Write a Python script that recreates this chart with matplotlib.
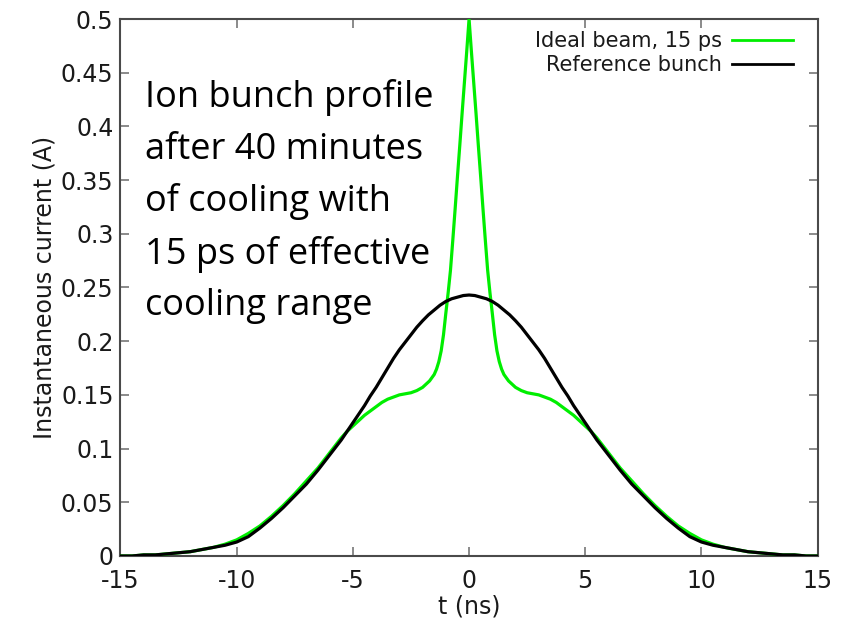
import matplotlib
matplotlib.use("Agg")
import matplotlib.pyplot as plt

# Reference bunch (black)
t_ref = [-15, -14.5, -14, -13.5, -13, -12.5, -12, -11.5, -11, -10.5, -10, -9.5, -9, -8.5, -8,
         -7.5, -7, -6.5,
         -6, -5.75, -5.5, -5.25, -5, -4.75, -4.5, -4.25, -4, -3.75, -3.5, -3.25, -3, -2.75,
         -2.5, -2.25, -2, -1.75, -1.5, -1.25, -1, -0.75, -0.5, -0.25, 0,
         0.25, 0.5, 0.75, 1, 1.25, 1.5, 1.75, 2, 2.25, 2.5, 2.75, 3, 3.25, 3.5, 3.75, 4,
         4.25, 4.5, 4.75, 5, 5.25, 5.5, 5.75, 6,
         6.5, 7, 7.5, 8, 8.5, 9, 9.5, 10, 10.5, 11, 11.5, 12, 12.5, 13, 13.5, 14, 14.5, 15]
i_ref = [0.000, 0.000, 0.001, 0.001, 0.002, 0.003, 0.004, 0.006, 0.008, 0.010, 0.013, 0.018,
         0.026, 0.035, 0.045, 0.056, 0.067, 0.080,
         0.094, 0.101, 0.108, 0.116, 0.124, 0.132, 0.140, 0.149, 0.157, 0.166, 0.175, 0.184,
         0.192, 0.199, 0.206, 0.213, 0.219, 0.2245, 0.229, 0.2335, 0.237, 0.2395, 0.241,
         0.2425, 0.243,
         0.2425, 0.241, 0.2395, 0.237, 0.2335, 0.229, 0.2245, 0.219, 0.213, 0.206, 0.199,
         0.192, 0.184, 0.175, 0.166, 0.157, 0.149, 0.140, 0.132, 0.124, 0.116, 0.108, 0.101,
         0.094,
         0.080, 0.067, 0.056, 0.045, 0.035, 0.026, 0.018, 0.013, 0.010, 0.008, 0.006, 0.004,
         0.003, 0.002, 0.001, 0.001, 0.000, 0.000]

# Ideal beam, 15 ps (green)
t_ideal = [-15, -14.5, -14, -13.5, -13, -12.5, -12, -11.5, -11, -10.5, -10, -9.5, -9, -8.5,
           -8, -7.5, -7, -6.5, -6,
           -5.75, -5.5, -5.25, -5, -4.75, -4.5, -4.25, -4, -3.75, -3.5, -3.25, -3, -2.75,
           -2.5, -2.25, -2,
           -1.9, -1.8, -1.7, -1.6, -1.5, -1.4, -1.3, -1.2, -1.1, -1.0, -0.9, -0.8, -0.7,
           -0.6, -0.5, -0.4, -0.3, -0.2, -0.1, 0,
           0.1, 0.2, 0.3, 0.4, 0.5, 0.6, 0.7, 0.8, 0.9, 1.0, 1.1, 1.2, 1.3, 1.4, 1.5, 1.6,
           1.7, 1.8, 1.9,
           2, 2.25, 2.5, 2.75, 3, 3.25, 3.5, 3.75, 4, 4.25, 4.5, 4.75, 5, 5.25, 5.5, 5.75,
           6, 6.5, 7, 7.5, 8, 8.5, 9, 9.5, 10, 10.5, 11, 11.5, 12, 12.5, 13, 13.5, 14, 14.5, 15]
i_ideal = [0.000, 0.000, 0.001, 0.001, 0.002, 0.003, 0.004, 0.006, 0.008, 0.011, 0.015,
           0.021, 0.028, 0.037, 0.047, 0.058, 0.070, 0.082, 0.096,
           0.103, 0.110, 0.116, 0.121, 0.126, 0.131, 0.135, 0.139, 0.143, 0.146, 0.148,
           0.150, 0.151, 0.152, 0.154, 0.157,
           0.159, 0.161, 0.163, 0.166, 0.169, 0.174, 0.181, 0.191, 0.206, 0.226, 0.245,
           0.266, 0.294, 0.323, 0.353, 0.382, 0.412, 0.441, 0.470, 0.500,
           0.470, 0.441, 0.412, 0.382, 0.353, 0.323, 0.294, 0.266, 0.245, 0.226, 0.206,
           0.191, 0.181, 0.174, 0.169, 0.166, 0.163, 0.161, 0.159,
           0.157, 0.154, 0.152, 0.151, 0.150, 0.148, 0.146, 0.143, 0.139, 0.135, 0.131,
           0.126, 0.121, 0.116, 0.110, 0.103,
           0.096, 0.082, 0.070, 0.058, 0.047, 0.037, 0.028, 0.021, 0.015, 0.011, 0.008,
           0.006, 0.004, 0.003, 0.002, 0.001, 0.001, 0.000, 0.000]

x_ticks = [-15, -10, -5, 0, 5, 10, 15]
y_ticks = [0, 0.05, 0.1, 0.15, 0.2, 0.25, 0.3, 0.35, 0.4, 0.45, 0.5]
y_tick_labels = ["0", "0.05", "0.1", "0.15", "0.2", "0.25", "0.3", "0.35", "0.4", "0.45", "0.5"]
note = "Ion bunch profile\nafter 40 minutes\nof cooling with\n15 ps of effective\ncooling range"

fig = plt.figure(figsize=(8.45, 6.19), dpi=100)
ax = fig.add_axes([0.1426, 0.1018, 0.825, 0.8675])

ax.plot(t_ideal, i_ideal, color="#00ee00", lw=2.3, label="Ideal beam, 15 ps", zorder=3,
        solid_joinstyle="round")
ax.plot(t_ref, i_ref, color="black", lw=2.3, label="Reference bunch", zorder=4,
        solid_joinstyle="round")

ax.set_xlim(-15, 15)
ax.set_ylim(0, 0.5)
ax.set_xticks(x_ticks)
ax.set_xticklabels([str(v) for v in x_ticks])
ax.set_yticks(y_ticks)
ax.set_yticklabels(y_tick_labels)
ax.tick_params(direction="in", top=True, right=True, length=6.5, width=1.2,
               color="#777777", labelsize=17, labelcolor="#1a1a1a")
ax.tick_params(axis="x", pad=9.5)
ax.tick_params(axis="y", pad=5)
for s in ax.spines.values():
    s.set_color("#4a4a4a")
    s.set_linewidth(1.5)

ax.set_xlabel("t (ns)", fontsize=17, color="#1a1a1a", labelpad=1)
ax.set_ylabel("Instantaneous current (A)", fontsize=17, color="#1a1a1a", labelpad=3)

leg = ax.legend(loc="upper right", bbox_to_anchor=(0.9647, 0.978), frameon=False,
                markerfirst=False, fontsize=15, handlelength=2.93, handletextpad=0.5,
                labelspacing=0.22, borderpad=0.0, borderaxespad=0.0)
for line in leg.get_lines():
    line.set_linewidth(2.0)
for txt in leg.get_texts():
    txt.set_color("#1a1a1a")

ax.text(-13.93, 0.2244, note, fontsize=26, family="Open Sans", va="baseline", ha="left",
        linespacing=1.56, color="black")

fig.savefig("out.png", dpi=100)
